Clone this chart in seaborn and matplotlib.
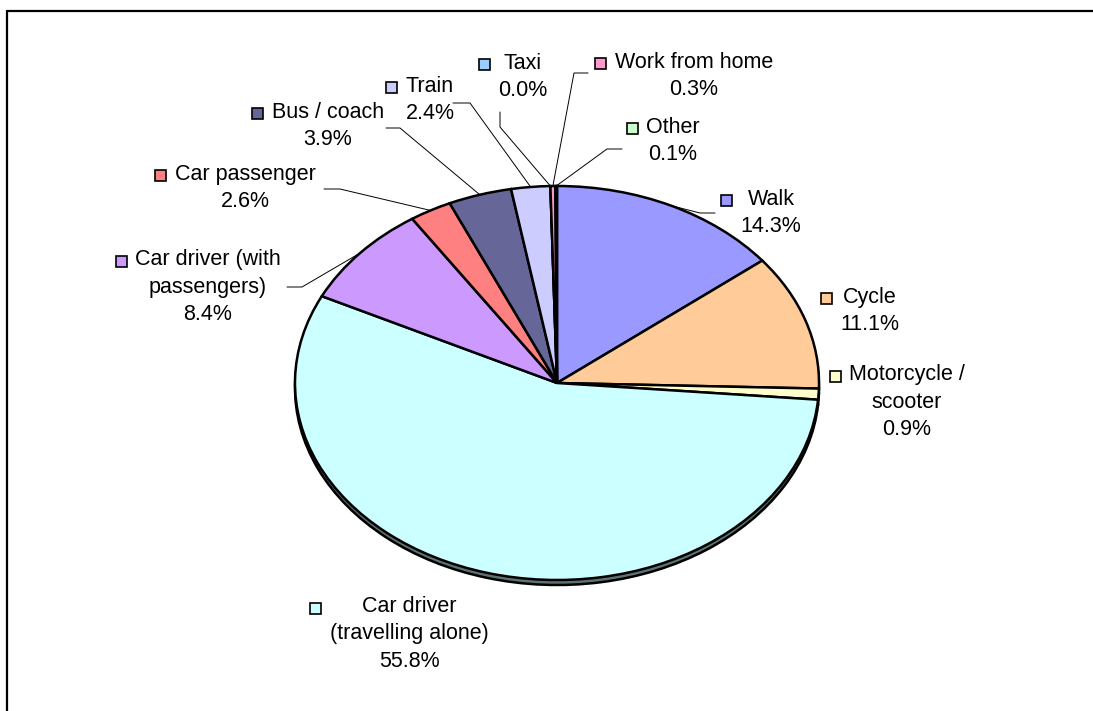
import numpy as np
import matplotlib
matplotlib.use("Agg")
import matplotlib.pyplot as plt
import matplotlib.colors as mcolors
from matplotlib.patches import Rectangle
from matplotlib.lines import Line2D
import seaborn as sns

# data, clockwise from 12 o'clock
modes = ["Walk", "Cycle", "Motorcycle /\nscooter", "Car driver\n(travelling alone)",
         "Car driver (with\npassengers)", "Car passenger", "Bus / coach", "Train",
         "Taxi", "Work from home", "Other"]
shares = [14.3, 11.1, 0.9, 55.8, 8.4, 2.6, 3.9, 2.4, 0.0, 0.3, 0.1]
colours = ["#9999FF", "#FFCC99", "#FFFFCC", "#CCFFFF", "#CC99FF", "#FF8080",
           "#666699", "#CCCCFF", "#99CCFF", "#FF99CC", "#CCFFCC"]

# label block centres in pixels (x from left, y from top)
label_pos = [(771, 213), (870, 311), (907, 402), (409, 634), (208, 287), (245, 188),
             (328, 126), (430, 100), (523, 77), (694, 76), (673, 141)]
# leader lines: start point and elbow point in pixels, None = no leader
leaders = [((715, 213), (700, 213)), None, None, None,
           ((287, 287), (302, 287)), ((324, 189), (340, 189)),
           ((386, 128), (400, 128)), ((453, 103), (470, 103)),
           ((500, 112), (500, 127)), ((588, 73), (574, 73)),
           ((622, 149), (607, 149))]

W, H = 1093, 711
sns.set_style("white")
plt.rcParams['font.family'] = ['Liberation Sans', 'DejaVu Sans']

fig = plt.figure(figsize=(W / 100, H / 100), dpi=100)
fig.patch.set_facecolor("white")

cx, cy, rx, ry, depth = 557, 383, 262, 197, 5
ax = fig.add_axes([0, 0, 1, 1])

# the thin 3d rim under the pie
dark = [tuple(np.array(mcolors.to_rgb(c)) * 0.45) for c in colours]
ax.pie(shares, colors=dark, startangle=90, counterclock=False, radius=1,
       center=(0, -depth / ry), frame=True,
       wedgeprops=dict(edgecolor="black", linewidth=1.8))
wedges, _ = ax.pie(shares, colors=colours, startangle=90, counterclock=False, radius=1,
                   center=(0, 0), frame=True,
                   wedgeprops=dict(edgecolor="black", linewidth=1.8))
ax.set_aspect("auto")
pad = 1.02
ax.set_xlim(-pad, pad)
ax.set_ylim(-pad - depth / ry, pad)
ax.axis("off")
# place the axes so that the pie lands on the right pixels
ax.set_position([(cx - rx * pad) / W, (H - cy - ry * (pad + depth / ry)) / H,
                 2 * rx * pad / W, ry * (2 * pad + depth / ry) / H])

to_fig = fig.transFigure.inverted()


def px(p):
    return p[0] / W, 1 - p[1] / H


texts = []
for name, val, pos in zip(modes, shares, label_pos):
    t = fig.text(*px(pos), f"{name}\n{val:.1f}%", ha="center", va="center",
                 multialignment="center", fontsize=15.5, linespacing=1.38, color="black")
    texts.append(t)

# leader lines to the middle of each slice's arc
for w, lead in zip(wedges, leaders):
    if lead is None:
        continue
    mid = np.deg2rad((w.theta1 + w.theta2) / 2)
    edge = ax.transData.transform((np.cos(mid), np.sin(mid)))
    ex, ey = to_fig.transform(edge)
    (x0, y0), (x1, y1) = px(lead[0]), px(lead[1])
    fig.add_artist(Line2D([x0, x1, ex], [y0, y1, ey], color="black", lw=0.7))

# small colour keys to the left of each label block
fig.canvas.draw()
renderer = fig.canvas.get_renderer()
for t, c in zip(texts, colours):
    bb = t.get_window_extent(renderer)
    size = 11
    kx = bb.x0 - 14 - size / 2
    ky = bb.y1 - 12 - size / 2
    fig.add_artist(Rectangle((kx / W, ky / H), size / W, size / H,
                             transform=fig.transFigure, facecolor=c,
                             edgecolor="black", lw=1.2))

# chart frame, right and bottom edges fall outside the picture
fig.add_artist(Line2D([7 / W, 7 / W], [0, 1 - 10.5 / H], color="black", lw=1.6))
fig.add_artist(Line2D([7 / W, 1.0], [1 - 10.5 / H, 1 - 10.5 / H], color="black", lw=1.6))

fig.savefig("out.png", dpi=100)
